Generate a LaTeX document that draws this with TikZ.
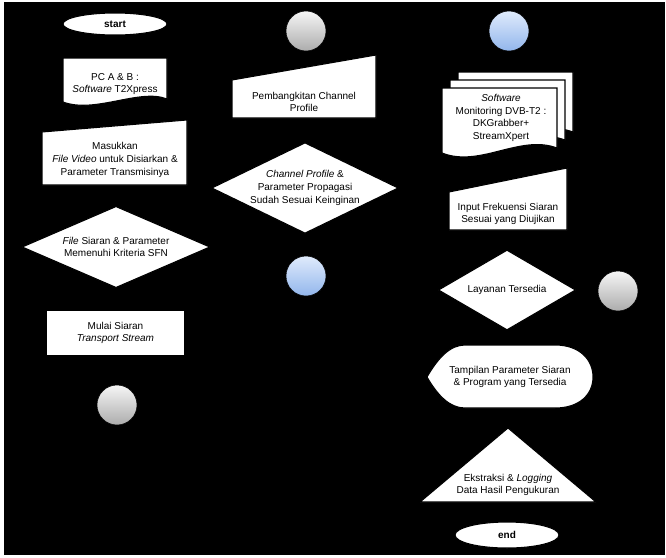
\documentclass[tikz,border=0pt]{standalone}
\usepackage{fontspec}
\setmainfont{Liberation Sans}
\usepackage{tikz}
\usetikzlibrary{shapes.geometric,arrows.meta}

\definecolor{ballGrayTop}{RGB}{246,246,246}
\definecolor{ballGrayBot}{RGB}{172,172,172}
\definecolor{ballBlueTop}{RGB}{224,235,252}
\definecolor{ballBlueBot}{RGB}{146,182,236}

\pgfdeclarelayer{back}
\pgfdeclarelayer{links}
\pgfsetlayers{back,links,main}

\begin{document}
\begin{tikzpicture}[x=0.75pt, y=-0.75pt,
		every node/.style={font=\fontsize{7.5}{9.6}\selectfont, align=center, inner sep=1pt},
		shapebox/.style={fill=white, draw=black, line width=0.8pt},
		terminal/.style={shapebox, ellipse, minimum width=78pt, minimum height=16.5pt},
		decision/.style={shapebox, diamond, inner sep=0pt},
		connector/.style={circle, draw=black, minimum size=30pt, inner sep=0pt},
		grayball/.style={connector, top color=ballGrayTop, bottom color=ballGrayBot},
		blueball/.style={connector, top color=ballBlueTop, bottom color=ballBlueBot},
		flow/.style={draw=black, line width=0.8pt, -{Stealth}}]
			\useasboundingbox (0,0) rectangle (666,557);
			\begin{pgfonlayer}{back}
				\fill[white] (0,0) rectangle (666,557);
				\fill[black] (4,2) rectangle (665,555);
			\end{pgfonlayer}
			% Left column
			\node[terminal] (start) at (115,24) {\textbf{start}};
			\draw[shapebox] (63,58) -- (167,58) -- (167,99) .. controls (140,88) and (95,114) .. (63,102) -- cycle;
			\node (pcab) at (115,84) {PC A \& B :\\\textit{Software} T2Xpress};
			\draw[shapebox] (42,132) -- (187,120) -- (187,185) -- (42,185) -- cycle;
			\node (masuk) at (115,160) {Masukkan\\\textit{File Video} untuk Disiarkan \&\\Parameter Transmisinya};
			\node[decision, minimum width=141pt, minimum height=61pt, shape aspect=2.3] (cekfile) at (116,247) {\textit{File} Siaran \& Parameter\\Memenuhi Kriteria SFN};
			\node[shapebox, minimum width=104pt, minimum height=34.5pt] (mulai) at (115.5,333) {Mulai Siaran\\\textit{Transport Stream}};
			\node[grayball] (konA) at (117,405) {};
			% Middle column
			\node[grayball] (konB) at (306,31) {};
			\draw[shapebox] (232,80) -- (376,55) -- (376,118) -- (232,118) -- cycle;
			\node (bangkit) at (304,102) {Pembangkitan Channel\\Profile};
			\node[decision, minimum width=140pt, minimum height=68pt, shape aspect=2.06] (cekprofil) at (305,188) {\textit{Channel Profile} \&\\Parameter Propagasi\\Sudah Sesuai Keinginan};
			\node[blueball] (konC) at (306,276) {};
			% Right column
			\node[blueball] (konD) at (509,31) {};
			\foreach \d in {16,8,0} {
				\begin{scope}[shift={(\d,-\d)}]
					\draw[shapebox] (442,88) -- (557,88) -- (557,148) .. controls (520,134) and (480,168) .. (442,153) -- cycle;
				\end{scope}
			}
			\node (software) at (501,118) {\textit{Software}\\Monitoring DVB-T2 :\\DKGrabber+\\StreamXpert};
			\draw[shapebox] (449,192) -- (567,168) -- (567,230) -- (449,230) -- cycle;
			\node (frek) at (508,214) {Input Frekuensi Siaran\\Sesuai yang Diujikan};
			\node[decision, minimum width=103pt, minimum height=60pt, shape aspect=1.7] (ceklayanan) at (507,290) {Layanan Tersedia};
			\node[grayball] (konE) at (618,291) {};
			\draw[shapebox] (427,377) .. controls (438,358) and (450,345) .. (465,345) -- (555,345) .. controls (580,345) and (593,360) .. (593,377) .. controls (593,394) and (580,408) .. (555,408) -- (465,408) .. controls (450,408) and (438,396) .. (427,377) -- cycle;
			\node (tampil) at (510,377) {Tampilan Parameter Siaran\\\& Program yang Tersedia};
			\draw[shapebox] (508,428) -- (596,502) -- (420,502) -- cycle;
			\node (ekstrak) at (508,485) {Ekstraksi \& \textit{Logging}\\Data Hasil Pengukuran};
			\node[terminal, minimum height=19.5pt] (end) at (507,535) {\textbf{end}};
			% Connectors
			\begin{pgfonlayer}{links}
				\draw[flow] (start) -- (pcab);
				\draw[flow] (pcab) -- (masuk);
				\draw[flow] (masuk) -- (cekfile);
				\draw[flow] (cekfile) -- (mulai);
				\draw[flow] (mulai) -- (konA);
				\draw[flow] (konB) -- (bangkit);
				\draw[flow] (bangkit) -- (cekprofil);
				\draw[flow] (cekprofil) -- (konC);
				\draw[flow] (konD) -- (software);
				\draw[flow] (software) -- (frek);
				\draw[flow] (frek) -- (ceklayanan);
				\draw[flow] (ceklayanan) -- (konE);
				\draw[flow] (ceklayanan) -- (tampil);
				\draw[flow] (tampil) -- (ekstrak);
				\draw[flow] (ekstrak) -- (end);
			\end{pgfonlayer}
		\end{tikzpicture}
\end{document}
